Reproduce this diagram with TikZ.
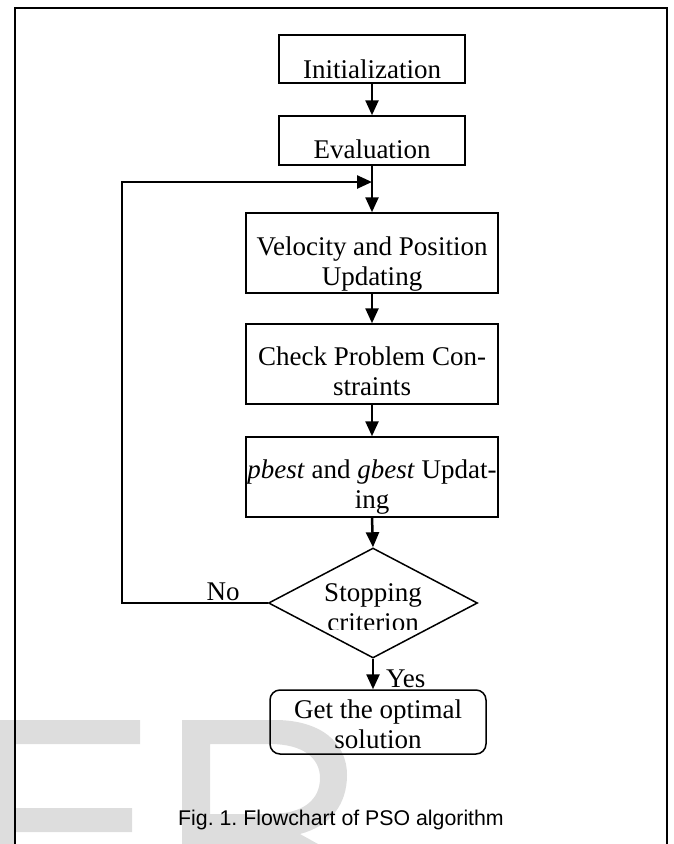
\documentclass[tikz,border=0pt]{standalone}
\usepackage{fontspec}
\newfontfamily\capfont{Liberation Sans}
\newfontfamily\boxfont{Liberation Serif}
\usetikzlibrary{shapes.geometric,arrows.meta}
\definecolor{wmgray}{RGB}{221,221,221}
\newcommand{\twolines}[2]{\begin{tabular}[b]{@{}c@{}}#1\\#2\end{tabular}}
\frenchspacing

\begin{document}
\begin{tikzpicture}
[x=1pt, y=-1pt]
\tikzset{
	process/.style = {draw, line width=1.5pt, inner sep=0pt, minimum width=252pt, font=\boxfont\fontsize{27}{30}\selectfont, text height=72pt, text depth=8pt},
	decision/.style = {diamond, draw, line width=1.5pt, inner sep=0pt, minimum width=209pt, minimum height=110pt},
	terminal/.style = {process, rounded corners=10pt, minimum width=216pt, text height=58pt, text depth=6pt},
	flow/.style = {line width=2.5pt, -{Triangle[length=15pt,width=13pt]}},
	answer/.style = {inner sep=0pt, font=\boxfont\fontsize{27}{30}\selectfont},
	frame/.style = {line width=2pt}
}
\useasboundingbox (0,0) rectangle (673,844);

\fill[wmgray] (0,720) rectangle (140,744) (0,808) rectangle (132,832) (0,720) rectangle (15,844);
\fill[wmgray, even odd rule] (182,720) -- (275,720) .. controls (320,720) and (347,742) .. (347,775) .. controls (347,805) and (330,826) .. (300,834) -- (318,844) -- (182,844) -- cycle
	(210,744) -- (270,744) .. controls (303,744) and (320,758) .. (320,778) .. controls (320,800) and (303,814) .. (270,814) -- (210,814) -- cycle;

\draw[frame] (15,844) -- (15,8) -- (667,8) -- (667,844);

\node[process, minimum width=186pt, text height=43pt, text depth=5pt] (init) at (372,59) {Initialization};
\node[process, minimum width=186pt, text height=42pt, text depth=7pt] (eval) at (372,140.5) {Evaluation};
\node[process] (update) at (372,253) {\twolines{Velocity and Position}{Updating}};
\node[process, text height=71pt, text depth=9pt] (check) at (372,364) {\twolines{Check Problem Con-}{straints}};
\node[process, text height=71pt, text depth=9pt] (best) at (372,477) {\twolines{\textit{pbest} and \textit{gbest} Updat-}{ing}};
\node[decision] (stop) at (373,603) {};
\node[terminal] (result) at (378,722) {\twolines{Get the optimal}{solution}};

\begin{scope}
	\clip (250,560) rectangle (500,629);
	\node[answer, anchor=base] (stoptext) at (373,631) {\twolines{Stopping}{criterion}};
\end{scope}

\coordinate (merge) at (372,182);

\draw[flow] (init.south) -- (eval.north);
\draw[flow] (eval.south) -- (update.north);
\draw[flow] (update.south) -- (check.north);
\draw[flow] (check.south) -- (best.north);
\draw[flow] (best.south) -- (stop.north);
\draw[flow] (stop.south) -- (stop.south |- result.north);
\draw[flow] (stop.west) -- ++(-146,0) |- (merge);

\node[answer, anchor=base east] (no) at ([xshift=-28pt, yshift=3pt]stop.west) {No};
\node[answer, anchor=base west] (yes) at ([xshift=13pt, yshift=-29pt]stop.south) {Yes};

\node[anchor=base, inner sep=0pt, font=\capfont\fontsize{21.3}{25}\selectfont] (caption) at (341,825) {Fig. 1. Flowchart of PSO algorithm};

\end{tikzpicture}
\end{document}
